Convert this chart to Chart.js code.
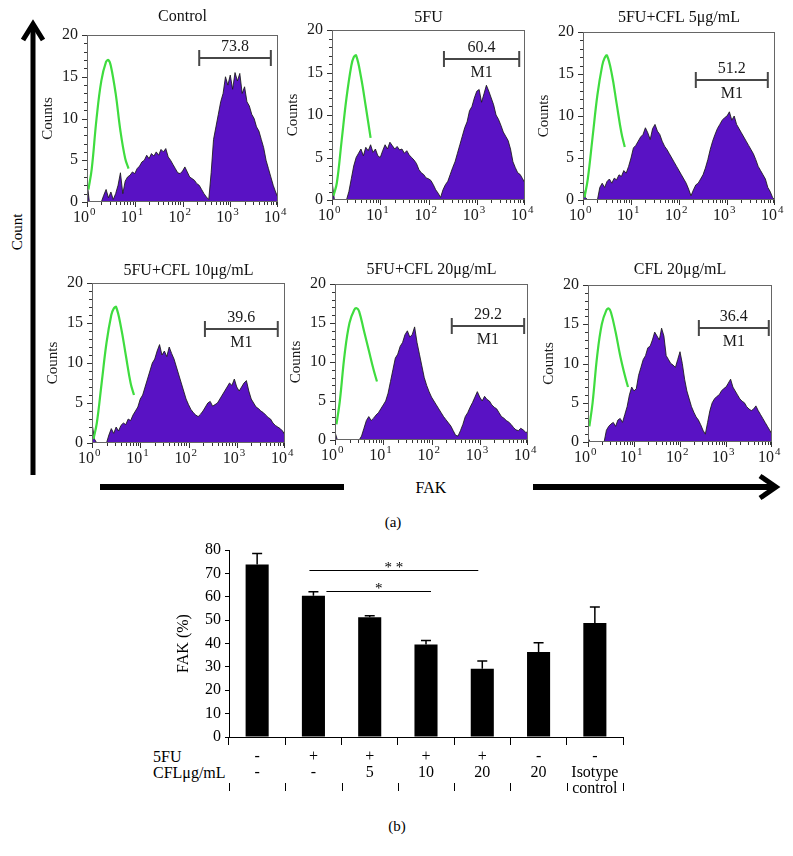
<!DOCTYPE html>
<html><head><meta charset="utf-8">
<script src="https://cdn.jsdelivr.net/npm/chart.js@4.4.1/dist/chart.umd.min.js"></script>
<style>
body{margin:0;background:#fff}
#fig{position:relative;width:793px;height:856px;overflow:hidden;background:#fff;font-family:"Liberation Serif",Tinos,"Times New Roman","DejaVu Serif",serif;color:#000}
canvas{position:absolute}
.t{position:absolute;white-space:nowrap;transform:translate(-50%,-50%);line-height:1}
</style></head><body><div id="fig">
<svg width="793" height="856" style="position:absolute;left:0;top:0">
 <line x1="33" y1="475" x2="33" y2="25" stroke="#000" stroke-width="5"/>
 <polyline points="23,40 33,24 43,40" fill="none" stroke="#000" stroke-width="5" stroke-linejoin="miter"/>
 <line x1="100" y1="487" x2="344" y2="487" stroke="#000" stroke-width="6"/>
 <line x1="533" y1="487" x2="775" y2="487" stroke="#000" stroke-width="6"/>
 <polyline points="760,476 776,487 760,498" fill="none" stroke="#000" stroke-width="5"/>
</svg>
<div class="t" style="left:17px;top:232px;transform:translate(-50%,-50%) rotate(-90deg);font-size:15px">Count</div>
<div class="t" style="left:431px;top:488px;font-size:16px">FAK</div>
<div class="t" style="left:393px;top:522px;font-size:15px">(a)</div>
<div class="t" style="left:397px;top:826px;font-size:15px">(b)</div>
<div class="t" style="left:153px;top:757px;transform:translate(0,-50%);font-size:16px">5FU</div>
<div class="t" style="left:153px;top:773px;transform:translate(0,-50%);font-size:16px">CFLμg/mL</div>
</div>
<script>
// ---------- DATA ----------
const panelTitles = ['Control','5FU','5FU+CFL 5μg/mL','5FU+CFL 10μg/mL','5FU+CFL 20μg/mL','CFL 20μg/mL'];
const xTickValues = [1,10,100,1000,10000];
const xTickBase = '10';
const xTickExp = ['0','1','2','3','4'];
const yTickStep = 5;

// FAK histogram counts per channel (channels evenly spaced, 0.05 decade apart, from 10^0 to 10^4)
const controlCounts = [2.5,0,0,0,0,0,0,0.8,1.5,0.5,1.2,0.3,1.0,2.0,3.5,1.0,2.5,3.0,3.2,3.6,3.4,4.0,4.3,4.8,5.0,5.6,5.2,5.8,5.5,6.0,5.6,6.3,6.0,6.4,5.4,5.0,4.5,4.0,3.5,3.4,3.7,4.2,3.6,3.0,2.8,2.6,2.2,2.0,1.5,1.0,0.6,0.3,3.5,7.5,9.0,10.5,12.0,13.0,15.0,14.0,15.2,13.5,15.5,14.5,15.4,13.0,13.8,12.0,11.5,10.5,10.0,9.0,8.5,7.5,6.5,5.0,4.0,3.0,2.0,1.2,0.5];
const fu5Counts = [2.2,0,0,0,0,0,0,1.0,2.5,4.0,5.0,5.5,6.0,5.2,6.2,5.8,6.5,5.6,6.0,5.2,5.0,5.8,6.5,6.0,6.8,6.4,6.0,6.3,5.9,6.0,5.5,5.8,5.3,5.0,4.7,4.3,3.6,3.2,3.0,2.6,2.5,2.3,1.8,1.2,0.8,0.3,1.2,1.8,2.2,3.0,3.8,4.5,5.5,6.5,7.5,8.5,9.2,10.5,11.0,12.0,12.8,13.0,11.5,12.5,13.5,12.8,12.0,11.2,10.0,9.5,8.8,8.0,7.5,7.0,6.0,4.5,3.8,3.2,3.0,2.5,2.0];
const cfl5Counts = [1.5,0.3,0,0,0,0,0,1.5,2.0,1.5,2.2,2.5,2.0,2.6,2.4,3.0,2.8,3.5,3.2,4.0,5.0,6.2,6.5,7.0,7.5,7.8,8.6,8.0,7.2,8.5,9.0,8.2,7.8,7.0,6.4,6.0,5.5,5.0,4.5,4.0,3.5,3.0,2.5,2.0,1.3,0.5,1.2,1.8,2.0,2.5,3.0,3.8,4.8,6.0,7.0,7.8,8.5,9.0,9.5,9.8,10.0,10.5,9.5,10.0,9.0,8.5,8.0,7.5,7.0,6.5,6.0,5.5,4.8,4.0,3.5,3.0,2.5,1.5,1.0,0.3,0];
const cfl10Counts = [2.5,0.5,0,0,0,0,0,1.0,1.8,1.2,2.0,1.5,2.2,2.5,2.3,3.0,2.8,3.5,4.0,4.5,5.5,6.0,7.0,8.0,9.0,10.0,10.5,11.5,12.3,11.0,11.5,10.8,12.0,11.2,10.5,9.5,8.5,7.5,6.5,5.5,4.8,4.2,3.8,3.5,3.3,3.6,4.0,4.5,5.0,5.2,4.6,4.8,5.0,5.5,6.0,6.5,7.0,7.5,7.2,8.0,7.0,6.5,7.0,7.5,7.8,6.5,5.5,5.0,4.5,4.3,4.0,3.8,3.5,3.2,3.0,2.5,2.2,2.0,1.8,1.5,1.0];
const cfl20Counts = [1.0,0,0,0,0,0,0,0,0,0,0,0.5,1.5,2.5,3.0,2.5,2.8,3.2,3.5,4.0,4.5,5.0,6.0,7.5,9.0,10.5,11.0,12.0,12.5,13.5,14.0,13.2,13.5,14.5,12.5,11.0,9.5,8.0,7.0,6.2,5.5,5.0,4.5,4.0,3.5,3.0,2.6,2.2,1.8,1.2,0.6,0.5,1.2,2.0,3.0,3.5,4.2,4.8,5.5,6.2,5.5,5.0,5.6,5.2,5.0,4.5,4.2,4.0,3.5,3.0,2.8,2.5,2.3,2.0,1.6,1.3,1.2,1.5,1.3,1.0,1.0];
const cflOnlyCounts = [0.5,0,0,0,0,0,0,0,1.5,2.0,2.3,2.5,2.0,2.8,3.0,2.5,3.5,4.5,6.0,7.0,6.5,6.8,8.5,9.5,10.5,11.0,12.0,12.2,13.0,14.0,13.5,13.0,14.5,13.5,11.0,10.5,10.0,9.8,9.5,10.5,11.5,10.0,8.0,6.5,5.5,4.5,3.8,3.2,2.8,2.2,1.5,1.0,2.5,4.0,5.0,5.5,5.8,6.0,6.5,6.8,7.0,7.5,8.0,7.0,6.5,6.0,5.5,5.2,5.0,4.5,4.2,4.0,4.2,4.6,4.0,3.5,3.0,2.5,2.0,1.5,1.0];

// isotype control (green) at these log-decade positions
const isoLog = [0.03,0.1,0.2,0.3,0.4,0.45,0.5,0.6,0.7,0.8,0.87];
const isoControl = [1.5,4,10,14.5,16.8,17,16.3,13,8.5,5.2,4];
const isoFu5     = [0.5,2,7,12,15.8,16.8,17,14.5,11,7.3,null];
const isoCfl5    = [0.3,2.5,7.5,12.5,16,16.9,17.2,15,11.5,8,6.3];
const isoCfl10   = [0.5,2.5,7.5,12.5,16,16.8,17,14.5,11,7.5,6];
const isoCfl20   = [2,5,11,15,16.7,16.9,16.5,14,11.5,9,7.5];
const isoCflOnly = [2,5,11,15,16.8,17,16.5,14,11,8.5,7];

// M1 gate markers
const markerLabels = ['73.8','60.4','51.2','39.6','29.2','36.4'];
const markerStart = [224,209,224,219,263,257];
const markerEnd = [7080,7590,7080,7080,8320,8510];
const markerLevel = [17.2,16.6,14.3,14.25,14.6,14.5];
const markerShowM1 = [false,true,true,true,true,true];

// bar chart (b)
const barGroups = [['-','-'],['+','-'],['+','5'],['+','10'],['+','20'],['-','20'],['-','Isotype','control']];
const fakPercent = [73.8,60.4,51.2,39.6,29.2,36.4,48.8];
const fakError = [4.7,1.7,0.7,1.7,3.3,3.9,6.8];
const sigFrom = [1,1];
const sigTo = [4,3];
const sigLevel = [71.4,62.4];
const sigLabel = ['* *','*'];

const histCounts = [controlCounts,fu5Counts,cfl5Counts,cfl10Counts,cfl20Counts,cflOnlyCounts];
const isoCounts = [isoControl,isoFu5,isoCfl5,isoCfl10,isoCfl20,isoCflOnly];

// ---------- RENDER ----------
const SERIF = '"Liberation Serif", Tinos, "Times New Roman", "DejaVu Serif", serif';
Chart.defaults.font.family = SERIF;
Chart.defaults.color = '#1a1a1a';
const fig = document.getElementById('fig');
const channelLog = controlCounts.map((_, i) => i * 0.05);

const panelBoxes = [
  {L:87,T:35,R:278,B:202,tt:18},{L:332,T:30,R:525,B:200,tt:12},{L:583,T:32,R:775,B:200,tt:14},
  {L:92,T:283,R:285,B:443,tt:12},{L:335,T:284,R:528,B:440,tt:14},{L:588,T:285,R:772,B:442,tt:15}
];

const histDecor = {
  id:'histDecor',
  afterDraw(chart){
    const p = chart.options.plugins.histDecor;
    const {ctx, chartArea:a} = chart;
    const x = chart.scales.x, y = chart.scales.y;
    ctx.save();
    ctx.strokeStyle = '#666'; ctx.lineWidth = 1;
    ctx.strokeRect(a.left+0.5, a.top+0.5, a.right-a.left-1, a.bottom-a.top-1);
    ctx.strokeStyle = '#333';
    ctx.beginPath();
    for (let v = 0; v <= 20; v++) {
      const py = Math.round(y.getPixelForValue(v)) + 0.5;
      const len = v % 5 === 0 ? 5 : 3;
      ctx.moveTo(a.left - len, py); ctx.lineTo(a.left, py);
    }
    for (let d = 0; d < 4; d++) for (let m = 1; m < 10; m++) {
      const px = Math.round(x.getPixelForValue(m * Math.pow(10, d))) + 0.5;
      const len = m === 1 ? 5 : 3;
      ctx.moveTo(px, a.bottom); ctx.lineTo(px, a.bottom + len);
    }
    const pr = Math.round(x.getPixelForValue(10000)) - 0.5;
    ctx.moveTo(pr, a.bottom); ctx.lineTo(pr, a.bottom + 5);
    ctx.stroke();
    // x tick labels 10^n
    ctx.fillStyle = '#1a1a1a';
    ctx.textBaseline = 'middle';
    xTickValues.forEach((v, i) => {
      const px = x.getPixelForValue(v);
      ctx.font = '16px ' + SERIF; ctx.textAlign = 'right';
      ctx.fillText(xTickBase, px + 2, a.bottom + 16);
      ctx.font = '11px ' + SERIF; ctx.textAlign = 'left';
      ctx.fillText(xTickExp[i], px + 3, a.bottom + 10);
    });
    // title
    ctx.fillStyle = '#111';
    ctx.font = '16px ' + SERIF;
    ctx.textAlign = 'center'; ctx.textBaseline = 'middle';
    ctx.fillText(p.title, (a.left + a.right) / 2, a.top - p.tt);
    // gate marker
    const x0 = x.getPixelForValue(p.m0), x1 = x.getPixelForValue(p.m1), my = Math.round(y.getPixelForValue(p.my));
    ctx.strokeStyle = '#474747'; ctx.lineWidth = 2;
    ctx.beginPath();
    ctx.moveTo(x0, my); ctx.lineTo(x1, my);
    ctx.moveTo(x0, my - 8); ctx.lineTo(x0, my + 8);
    ctx.moveTo(x1, my - 8); ctx.lineTo(x1, my + 8);
    ctx.stroke();
    ctx.fillStyle = '#1a1a1a';
    ctx.fillText(p.label, (x0 + x1) / 2, my - 11);
    if (p.showM1) ctx.fillText('M1', (x0 + x1) / 2, my + 14);
    ctx.restore();
  }
};

function makeHist(k){
  const box = panelBoxes[k];
  const padL = 52, padT = 30, padR = 14, padB = 28;
  const c = document.createElement('canvas');
  c.width = box.R - box.L + padL + padR;
  c.height = box.B - box.T + padT + padB;
  c.style.left = (box.L - padL) + 'px';
  c.style.top = (box.T - padT) + 'px';
  fig.appendChild(c);
  const main = channelLog.map((l, i) => ({x: Math.pow(10, l), y: histCounts[k][i]}));
  const iso = isoLog.map((l, i) => ({x: Math.pow(10, l), y: isoCounts[k][i]})).filter(p => p.y !== null);
  new Chart(c, {
    type:'line',
    data:{datasets:[
      {data: iso, fill:false, borderColor:'#3fdc3f', borderWidth:2.2, pointRadius:0, tension:0.4},
      {data: main, fill:'origin', backgroundColor:'#5912c4', borderColor:'rgba(25,25,25,0.85)', borderWidth:1, pointRadius:0, tension:0}
    ]},
    options:{
      responsive:false, animation:false, devicePixelRatio:1,
      layout:{padding:{top:padT, right:padR, left:0, bottom:0}},
      plugins:{legend:{display:false}, tooltip:{enabled:false},
        histDecor:{title:panelTitles[k], tt:box.tt, label:markerLabels[k], m0:markerStart[k], m1:markerEnd[k], my:markerLevel[k], showM1:markerShowM1[k]}},
      scales:{
        x:{type:'logarithmic', min:1, max:10000,
          afterBuildTicks(s){ s.ticks = xTickValues.map(v => ({value:v})); },
          afterFit(s){ s.height = padB; },
          grid:{display:false, drawTicks:false}, border:{display:false},
          ticks:{display:false}},
        y:{min:0, max:20,
          afterFit(s){ s.width = padL; },
          ticks:{stepSize:yTickStep, font:{size:16}, padding:9},
          grid:{display:false, drawTicks:false}, border:{display:false},
          title:{display:true, text:'Counts', font:{size:15}, padding:{top:4, bottom:0}, color:'#1a1a1a'}}
      }
    },
    plugins:[histDecor]
  });
}
for (let k = 0; k < 6; k++) makeHist(k);

// bar chart
const BAR_TOP = 535;
const barDecor = {
  id:'barDecor',
  afterDatasetsDraw(chart){
    const {ctx, chartArea:a} = chart;
    const y = chart.scales.y, x = chart.scales.x;
    const meta = chart.getDatasetMeta(0);
    ctx.save();
    ctx.strokeStyle = '#000'; ctx.lineWidth = 1.5;
    ctx.beginPath();
    meta.data.forEach((el, i) => {
      const top = y.getPixelForValue(fakPercent[i] + fakError[i]);
      ctx.moveTo(el.x, el.y); ctx.lineTo(el.x, top);
      ctx.moveTo(el.x - 5, top); ctx.lineTo(el.x + 5, top);
    });
    ctx.stroke();
    const offs = [[-4,-4],[13,5]];
    ctx.lineWidth = 1;
    ctx.font = '15px ' + SERIF;
    ctx.textAlign = 'center'; ctx.textBaseline = 'alphabetic';
    ctx.fillStyle = '#000';
    sigLevel.forEach((lv, j) => {
      const py = Math.round(y.getPixelForValue(lv)) + 0.5;
      const xa = x.getPixelForValue(sigFrom[j]) + offs[j][0];
      const xb = x.getPixelForValue(sigTo[j]) + offs[j][1];
      ctx.beginPath(); ctx.moveTo(xa, py); ctx.lineTo(xb, py); ctx.stroke();
      ctx.fillText(sigLabel[j], (xa + xb) / 2, py + 1);
    });
    ctx.beginPath();
    const n = barGroups.length, w = (a.right - a.left) / n;
    for (let i = 0; i <= n; i++) {
      const px = Math.round(a.left + i * w) + 0.5;
      ctx.moveTo(px, 783 - BAR_TOP); ctx.lineTo(px, 791 - BAR_TOP);
    }
    ctx.stroke();
    ctx.restore();
  }
};
const bc = document.createElement('canvas');
bc.width = 480; bc.height = 265;
bc.style.left = '170px'; bc.style.top = BAR_TOP + 'px';
fig.appendChild(bc);
new Chart(bc, {
  type:'bar',
  data:{labels: barGroups, datasets:[{data: fakPercent, backgroundColor:'#000', categoryPercentage:1, barPercentage:0.41}]},
  options:{
    responsive:false, animation:false, devicePixelRatio:1,
    layout:{padding:{top:15, right:27, left:0, bottom:0}},
    plugins:{legend:{display:false}, tooltip:{enabled:false}},
    scales:{
      x:{afterFit(s){ s.height = 63; },
        grid:{display:true, drawOnChartArea:false, offset:true, tickLength:8, color:'#000', lineWidth:1},
        border:{display:true, color:'#000'},
        ticks:{font:{size:16, lineHeight:1}, color:'#000', padding:4, maxRotation:0, autoSkip:false}},
      y:{min:0, max:80, afterFit(s){ s.width = 59; },
        ticks:{stepSize:10, font:{size:16}, color:'#000', padding:4},
        grid:{drawOnChartArea:false, tickLength:4, color:'#000'},
        border:{display:true, color:'#000'},
        title:{display:true, text:'FAK (%)', font:{size:16}, color:'#000', padding:{top:4, bottom:0}}}
    }
  },
  plugins:[barDecor]
});
</script>
</body></html>
